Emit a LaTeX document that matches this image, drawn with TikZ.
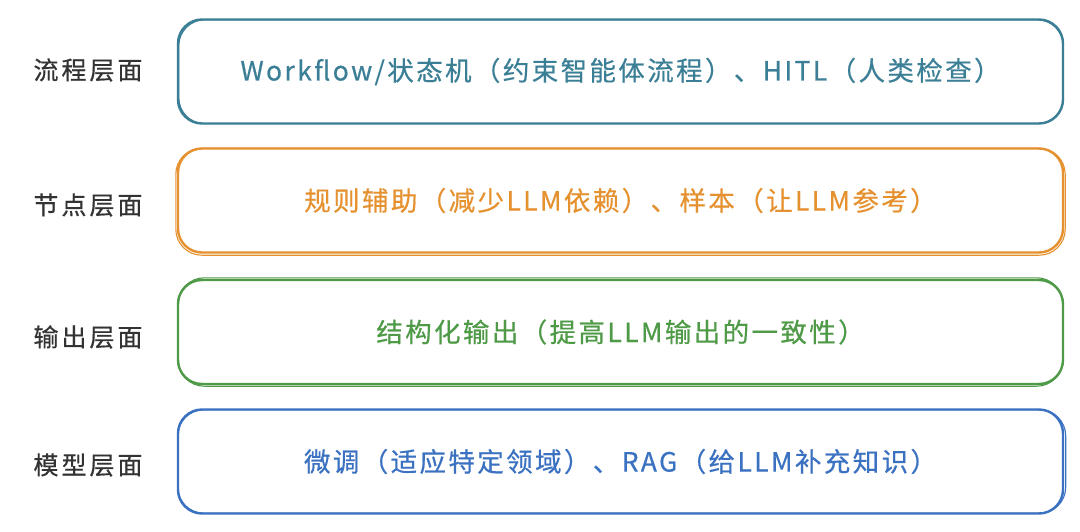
\documentclass[tikz,border=0pt]{standalone}
\usepackage{fontspec}
\setmainfont{Noto Sans CJK SC}
\newfontfamily\lblfont[LetterSpace=12,FakeBold=0.6]{Noto Sans CJK SC}
\newfontfamily\txtfont[LetterSpace=9,FakeBold=0.5]{Noto Sans CJK SC}
\definecolor{cteal}{HTML}{3B7F96}
\definecolor{corange}{HTML}{E6912F}
\definecolor{cgreen}{HTML}{4F9A47}
\definecolor{cblue}{HTML}{3A71C1}
\definecolor{clabel}{HTML}{333333}
\tikzset{
  x=1pt, y=-1pt,
  layerbox/.style={draw=#1, text=#1, line width=2.4pt, rounded corners=24pt,
    minimum width=885pt, minimum height=104pt, inner sep=0pt,
    font=\txtfont\fontsize{26.5}{30}\selectfont},
  sketch/.style={draw=#1, line width=1.1pt, rounded corners=26pt},
  layerlabel/.style={text=clabel, font=\lblfont\fontsize{25}{30}\selectfont, inner sep=0pt}
}
\begin{document}
\begin{tikzpicture}
\useasboundingbox (0,0) rectangle (1080,532);
\fill[white] (0,0) rectangle (1080,532);

\node[layerbox=cteal] (b1) at (620.5,71.5) {Workflow/状态机（约束智能体流程）、HITL（人类检查）};
\node[layerbox=corange] (b2) at (620.5,200.5) {规则辅助（减少LLM依赖）、样本（让LLM参考）};
\node[layerbox=cgreen] (b3) at (620.5,332) {结构化输出（提高LLM输出的一致性）};
\node[layerbox=cblue] (b4) at (620.5,461.5) {微调（适应特定领域）、RAG（给LLM补充知识）};

\draw[sketch=cteal] ([shift={(2,1.5)}]b1.north west) rectangle ([shift={(-1,-1)}]b1.south east);
\draw[sketch=corange] ([shift={(-1,1)}]b2.north west) rectangle ([shift={(1,1.5)}]b2.south east);
\draw[sketch=cgreen] ([shift={(1.5,-1)}]b3.north west) rectangle ([shift={(-1.5,1)}]b3.south east);
\draw[sketch=cblue] ([shift={(1,1.5)}]b4.north west) rectangle ([shift={(1.5,-1.5)}]b4.south east);

\node[layerlabel] (l1) at (88,70) {流程层面};
\node[layerlabel] (l2) at (88,205) {节点层面};
\node[layerlabel] (l3) at (88,337) {输出层面};
\node[layerlabel] (l4) at (88,465) {模型层面};
\end{tikzpicture}
\end{document}
